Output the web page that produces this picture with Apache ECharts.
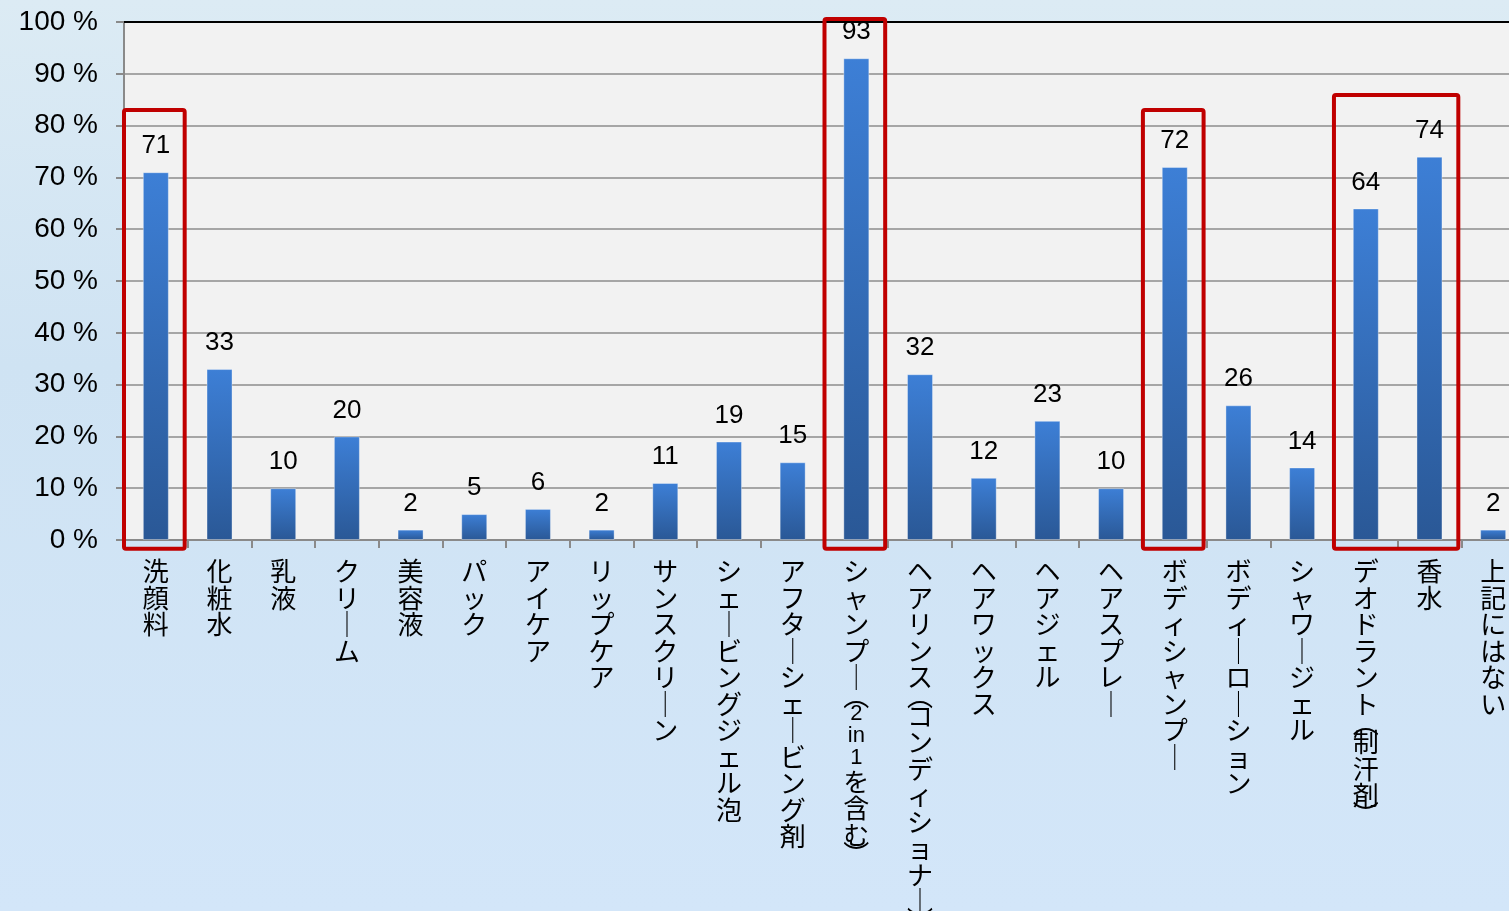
<!DOCTYPE html>
<html><head><meta charset="utf-8">
<script src="https://cdn.jsdelivr.net/npm/echarts@6/dist/echarts.min.js"></script>
<style>
html,body{margin:0;padding:0;width:1509px;height:911px;overflow:hidden;
background:linear-gradient(180deg,#dcebf4 0%,#cfe3f3 40%,#d3e6f9 100%);}
#c{width:1509px;height:911px;}
</style></head><body><div id="c"></div>
<script>
const categories = ['洗顔料','化粧水','乳液','クリーム','美容液','パック','アイケア','リップケア','サンスクリーン','シェービングジェル泡','アフターシェービング剤','シャンプー（2in1を含む）','ヘアリンス（コンディショナー）','ヘアワックス','ヘアジェル','ヘアスプレー','ボディシャンプー','ボディーローション','シャワージェル','デオドラント（制汗剤）','香水','上記にはない'];
const values = [71,33,10,20,2,5,6,2,11,19,15,93,32,12,23,10,72,26,14,64,74,2];
const yTicks = [0,10,20,30,40,50,60,70,80,90,100];
// highlighted groups: [first category, last category, top value]
const highlights = [['洗顔料','洗顔料',83],['シャンプー（2in1を含む）','シャンプー（2in1を含む）',100.6],['ボディシャンプー','ボディシャンプー',83],['デオドラント（制汗剤）','香水',85.9]];

function vertical(s){
  const tokens = s.match(/[a-z]+|./g);
  return tokens.map(t=>{
    if(t==='（'||t==='(') return '{p|︵}';
    if(t==='）'||t===')') return '{p|︶}';
    if(t==='ー') return '{c|｜}';
    if(/^[0-9a-z]+$/.test(t)) return '{a|'+t+'}';
    return '{c|'+t+'}';
  }).join('\n');
}

const chart = echarts.init(document.getElementById('c'));
const font = "'Liberation Sans', Arial, 'Noto Sans CJK JP', sans-serif";
chart.setOption({
  animation:false,
  grid:{left:124, top:22, width:1401, height:518, show:true, backgroundColor:'#f2f2f2', borderWidth:0,
    containLabel:false, outerBoundsMode:'none'},
  xAxis:{type:'category', data:categories,
    axisLine:{lineStyle:{color:'#8a8a8a', width:2}},
    axisTick:{show:true, length:8, lineStyle:{color:'#8a8a8a', width:2}},
    axisLabel:{interval:0, margin:18, formatter:vertical, verticalAlign:'top', hideOverlap:false,
      rich:{
        c:{fontSize:26, lineHeight:26.5, color:'#000', fontFamily:"'Noto Sans CJK JP', sans-serif"},
        p:{fontSize:26, lineHeight:12, color:'#000', fontFamily:"'Noto Sans CJK JP', sans-serif"},
        a:{fontSize:22, lineHeight:22, color:'#000', fontFamily:font}
      }}
  },
  yAxis:{type:'value', min:0, max:100, interval:10,
    axisLine:{show:true, lineStyle:{color:'#8a8a8a', width:2}},
    axisTick:{show:true, length:8, lineStyle:{color:'#8a8a8a', width:2}},
    axisLabel:{margin:26, fontSize:28, color:'#000', fontFamily:font,
      formatter:v=> yTicks.includes(v) ? v+' %' : ''},
    splitLine:{lineStyle:{color:'#8c8c8c', width:1.5}}
  },
  series:[{type:'bar', data:values, barWidth:26,
    itemStyle:{color:new echarts.graphic.LinearGradient(0,0,0,1,[{offset:0,color:'#3d7fd6'},{offset:1,color:'#2a5896'}]),
      borderColor:'rgba(255,255,255,0.35)', borderWidth:1},
    label:{show:true, position:'top', distance:13, fontSize:26, color:'#000', fontFamily:font},
    markLine:{silent:true, symbol:'none', label:{show:false},
      lineStyle:{color:'#000', type:'solid', width:2}, data:[{yAxis:100}]}
  }]
});

function drawBoxes(){
  const bw = 1401/categories.length;
  const els = highlights.map(h=>{
    const i0 = categories.indexOf(h[0]), i1 = categories.indexOf(h[1]);
    const x0 = chart.convertToPixel({xAxisIndex:0}, i0) - bw/2;
    const x1 = chart.convertToPixel({xAxisIndex:0}, i1) + bw/2;
    const y0 = chart.convertToPixel({yAxisIndex:0}, h[2]);
    const y1 = chart.convertToPixel({yAxisIndex:0}, -1.7);
    return {type:'rect', shape:{x:x0, y:y0, width:x1-x0-3, height:y1-y0, r:2},
      style:{fill:'none', stroke:'#c00000', lineWidth:4}, z:100};
  });
  chart.setOption({graphic:els});
}
drawBoxes();
</script></body></html>
